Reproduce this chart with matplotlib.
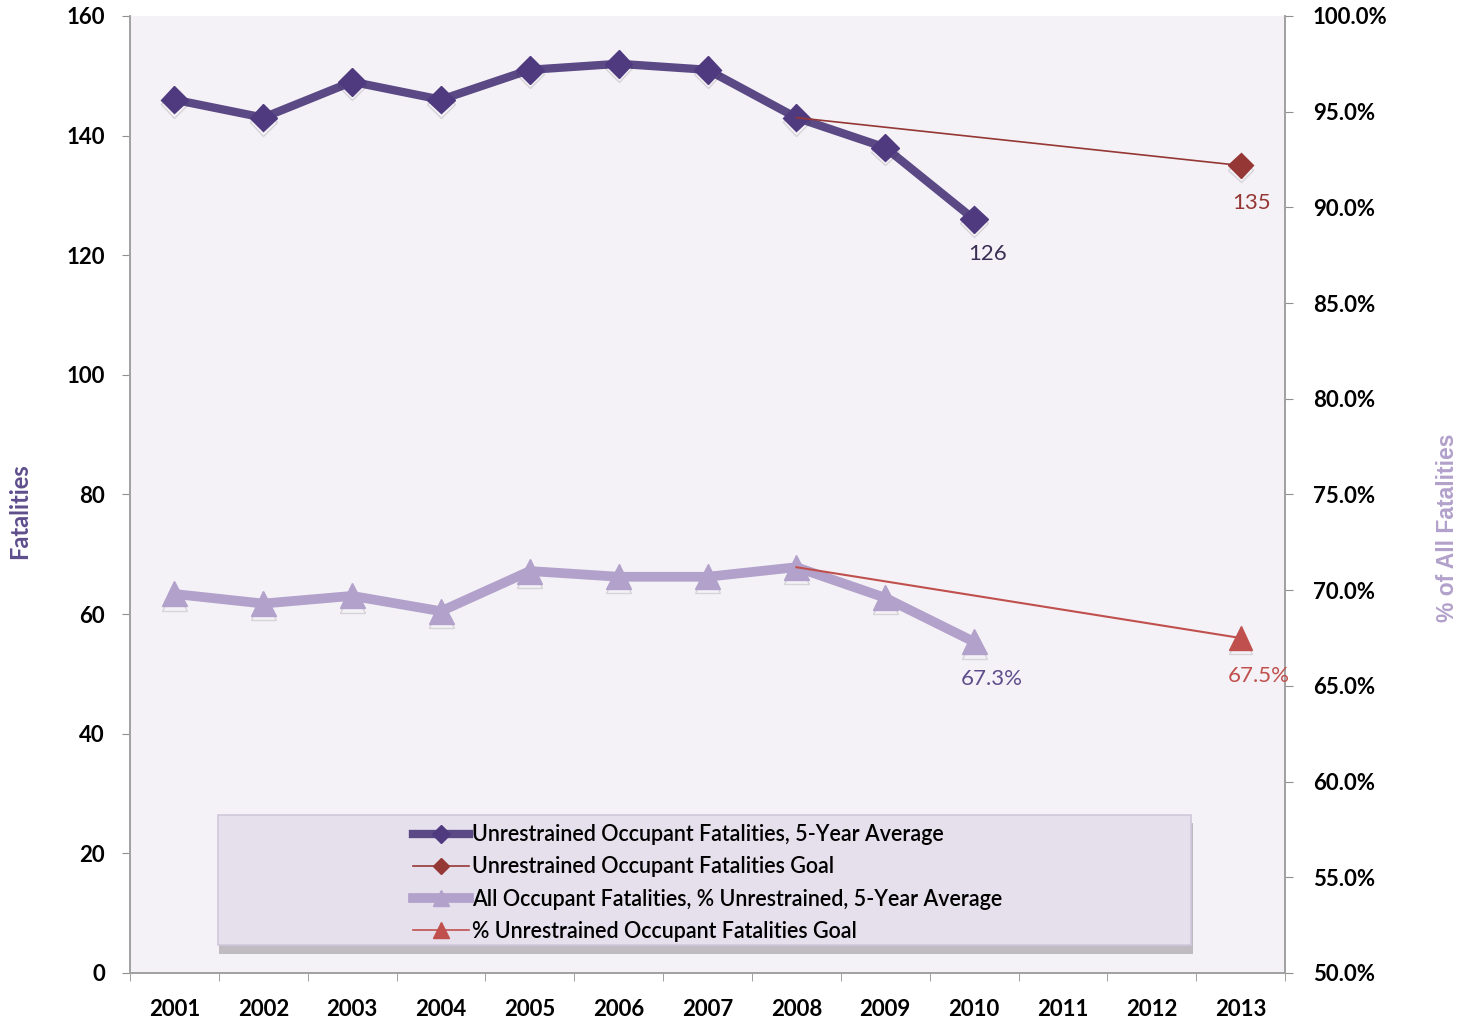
import numpy as np
import matplotlib
matplotlib.use("Agg")
import matplotlib.pyplot as plt
import matplotlib.patheffects as pe
from matplotlib.patches import Rectangle
from matplotlib.lines import Line2D
from matplotlib.ticker import FuncFormatter, MultipleLocator

plt.rcParams['font.family'] = ['Lato', 'DejaVu Sans']

# ---- DATA ----
years = ['2001', '2002', '2003', '2004', '2005', '2006', '2007',
         '2008', '2009', '2010', '2011', '2012', '2013']
avg_years = ['2001', '2002', '2003', '2004', '2005', '2006', '2007', '2008', '2009', '2010']
fatal_avg = [146, 143, 149, 146, 151, 152, 151, 143, 138, 126]
goal_years = ['2008', '2013']
fatal_goal = [143, 135]
pct_avg = [69.8, 69.3, 69.7, 68.9, 71.0, 70.7, 70.7, 71.2, 69.6, 67.3]
pct_goal = [71.2, 67.5]

labels = ['Unrestrained Occupant Fatalities, 5-Year Average',
          'Unrestrained Occupant Fatalities Goal',
          'All Occupant Fatalities, % Unrestrained, 5-Year Average',
          '% Unrestrained Occupant Fatalities Goal']

# colours
c_dark = '#5B4985'
c_dark_mk = '#4F3A80'
c_light = '#B2A1CB'
c_goal = '#953735'
c_goal2 = '#C0504D'

xa = [years.index(y) for y in avg_years]
xg = [years.index(y) for y in goal_years]

fig = plt.figure(figsize=(14.73, 10.23), dpi=100)
ax = fig.add_axes([0.0883, 0.0489, 0.7841, 0.9355])
ax.set_facecolor('#F4F2F7')
ax2 = ax.twinx()

# soft shadow only under the markers
mshadow = [pe.SimpleLineShadow(offset=(0, -3), shadow_color='k', alpha=0.12), pe.Normal()]

ax.plot(xa, fatal_avg, color=c_dark, lw=6, zorder=4)
ax.plot(xa, fatal_avg, ls='none', marker='D', ms=14, mfc=c_dark_mk, mec=c_dark_mk,
        zorder=4, path_effects=mshadow)
ax.plot(xg, fatal_goal, color=c_goal, lw=1.2, zorder=5)
ax.plot(xg[1:], fatal_goal[1:], ls='none', marker='D', ms=13, mfc=c_goal, mec=c_goal,
        zorder=5, path_effects=mshadow)

ax2.plot(xa, pct_avg, color=c_light, lw=7, zorder=4)
ax2.plot(xa, pct_avg, ls='none', marker='^', ms=18, mfc=c_light, mec=c_light,
         zorder=4, path_effects=mshadow)
ax2.plot(xg, pct_goal, color=c_goal2, lw=1.5, zorder=5)
ax2.plot(xg[1:], pct_goal[1:], ls='none', marker='^', ms=17, mfc=c_goal2, mec=c_goal2,
         zorder=5, path_effects=mshadow)

# data labels
ax.annotate(str(fatal_avg[-1]), (xa[-1], fatal_avg[-1]), xytext=(10, -25),
            textcoords='offset points', ha='center', va='center', fontsize=16, color='#3B2F55')
ax.annotate(str(fatal_goal[-1]), (xg[-1], fatal_goal[-1]), xytext=(8, -27),
            textcoords='offset points', ha='center', va='center', fontsize=16, color=c_goal)
ax2.annotate('%.1f%%' % pct_avg[-1], (xa[-1], pct_avg[-1]), xytext=(13, -27),
             textcoords='offset points', ha='center', va='center', fontsize=16, color='#5E4E8C')
ax2.annotate('%.1f%%' % pct_goal[-1], (xg[-1], pct_goal[-1]), xytext=(13, -27),
             textcoords='offset points', ha='center', va='center', fontsize=16, color=c_goal2)

# axes
ax.set_xlim(-0.5, len(years) - 0.5)
ax.set_ylim(0, 160)
ax2.set_ylim(50, 100)
ax.yaxis.set_major_locator(MultipleLocator(20))
ax2.yaxis.set_major_locator(MultipleLocator(5))
ax2.yaxis.set_major_formatter(FuncFormatter(lambda v, p: '%.1f%%' % v))

ax.set_xticks(range(len(years)))
ax.set_xticklabels(years)
ax.set_xticks(np.arange(-0.5, len(years)), minor=True)
ax.tick_params(axis='x', which='major', length=0, pad=19, labelsize=16)
ax.tick_params(axis='x', which='minor', length=6, color='#909090', direction='out')
ax.tick_params(axis='y', length=6, color='#909090', labelsize=16, pad=12)
ax2.tick_params(axis='y', length=6, color='#909090', labelsize=16, pad=14)
for t in ax.get_xticklabels() + ax.get_yticklabels() + ax2.get_yticklabels():
    t.set_fontweight('bold')
for a in (ax, ax2):
    a.spines['top'].set_visible(False)
    for s in ('left', 'right', 'bottom'):
        a.spines[s].set_color('#A0A0A0')
        a.spines[s].set_linewidth(1.2)

fig.text(0.013, 0.50, 'Fatalities', rotation=90, ha='center', va='center',
         fontsize=17, fontweight='bold', color='#5E4E8C')
fig.text(0.983, 0.484, '% of All Fatalities', rotation=90, ha='center', va='center',
         fontsize=16.5, fontweight='bold', color=c_light, family='Liberation Sans')

# legend box
box = Rectangle((0.076, 0.029), 0.843, 0.136, transform=ax2.transAxes,
                facecolor='#E5E0EC', edgecolor='#CFC8DC', lw=1.2, zorder=10,
                path_effects=[pe.SimplePatchShadow(offset=(1, -6), shadow_rgbFace='k', alpha=0.22),
                              pe.Normal()])
ax2.add_patch(box)
handles = [
    Line2D([], [], color=c_dark, lw=6, marker='D', ms=9, mfc=c_dark_mk, mec=c_dark_mk),
    Line2D([], [], color=c_goal, lw=1.2, marker='D', ms=8, mfc=c_goal, mec=c_goal),
    Line2D([], [], color=c_light, lw=7, marker='^', ms=11, mfc=c_light, mec=c_light),
    Line2D([], [], color=c_goal2, lw=1.2, marker='^', ms=11, mfc=c_goal2, mec=c_goal2),
]
leg = ax2.legend(handles, labels, loc='center', bbox_to_anchor=(0.50, 0.094),
                 frameon=False, handlelength=2.6, handletextpad=0.15,
                 labelspacing=0.52, borderaxespad=0,
                 prop={'size': 15.5, 'weight': 'semibold'})
leg.set_zorder(11)

fig.savefig('out.png', dpi=100, facecolor='white')
